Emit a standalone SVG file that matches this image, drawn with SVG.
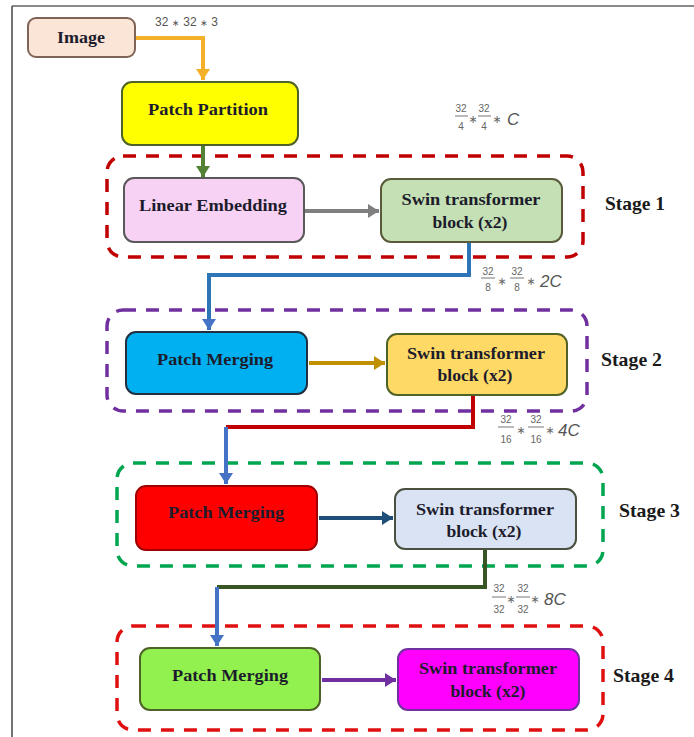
<svg xmlns="http://www.w3.org/2000/svg" width="694" height="737" viewBox="0 0 694 737">
<style>
.node{stroke-width:2}
.nt{font-family:"Liberation Serif","DejaVu Serif",serif;font-weight:bold;font-size:17px;text-anchor:middle;fill:#1c1c2c}
.st{font-family:"Liberation Serif","DejaVu Serif",serif;font-weight:bold;font-size:19px;fill:#1a1a1a}
.stage{fill:none;stroke-width:3.5;stroke-dasharray:13 10}
.conn{fill:none;stroke-width:4}
.lab{font-family:"Liberation Sans","DejaVu Sans",sans-serif;fill:#555}
.fr{font-family:"Liberation Sans","DejaVu Sans",sans-serif;font-size:10px;fill:#666;text-anchor:middle}
.frl{stroke:#777;stroke-width:1}
.big{font-family:"Liberation Sans","DejaVu Sans",sans-serif;font-size:17px;font-style:italic;fill:#555}
.ast{font-family:"Liberation Sans","DejaVu Sans",sans-serif;font-size:11px;fill:#666;text-anchor:middle}
</style>
<defs>
<marker id="aOr" markerWidth="14" markerHeight="14" refX="11" refY="7" orient="auto" markerUnits="userSpaceOnUse"><path d="M0,0 L11,7 L0,14 Z" fill="#f5b02a"/></marker>
<marker id="aGr" markerWidth="14" markerHeight="14" refX="11" refY="7" orient="auto" markerUnits="userSpaceOnUse"><path d="M0,0 L11,7 L0,14 Z" fill="#548235"/></marker>
<marker id="aGy" markerWidth="14" markerHeight="14" refX="11" refY="7" orient="auto" markerUnits="userSpaceOnUse"><path d="M0,0 L11,7 L0,14 Z" fill="#7f7f7f"/></marker>
<marker id="aBl" markerWidth="14" markerHeight="14" refX="11" refY="7" orient="auto" markerUnits="userSpaceOnUse"><path d="M0,0 L11,7 L0,14 Z" fill="#4472c4"/></marker>
<marker id="aGd" markerWidth="14" markerHeight="14" refX="11" refY="7" orient="auto" markerUnits="userSpaceOnUse"><path d="M0,0 L11,7 L0,14 Z" fill="#bf9000"/></marker>
<marker id="aNv" markerWidth="14" markerHeight="14" refX="11" refY="7" orient="auto" markerUnits="userSpaceOnUse"><path d="M0,0 L11,7 L0,14 Z" fill="#1f4e79"/></marker>
<marker id="aPu" markerWidth="14" markerHeight="14" refX="11" refY="7" orient="auto" markerUnits="userSpaceOnUse"><path d="M0,0 L11,7 L0,14 Z" fill="#7030a0"/></marker>
</defs>
<rect x="0" y="0" width="694" height="737" fill="#ffffff"/>
<line x1="12" y1="6" x2="694" y2="6" stroke="#8a8a8a" stroke-width="2"/>
<line x1="12" y1="6" x2="12" y2="737" stroke="#444" stroke-width="1.5"/>

<g id="stages">
<rect class="stage" x="107" y="156" width="476" height="101" rx="16" stroke="#c00000"/>
<rect class="stage" x="107" y="310" width="480" height="101" rx="16" stroke="#7030a0"/>
<rect class="stage" x="117" y="463" width="486" height="103" rx="16" stroke="#00a550"/>
<rect class="stage" x="117" y="626" width="486" height="104" rx="16" stroke="#e01010"/>
<text class="st" x="605" y="210" textLength="60" lengthAdjust="spacingAndGlyphs">Stage 1</text>
<text class="st" x="601" y="366" textLength="61" lengthAdjust="spacingAndGlyphs">Stage 2</text>
<text class="st" x="619" y="517" textLength="61" lengthAdjust="spacingAndGlyphs">Stage 3</text>
<text class="st" x="613" y="682" textLength="61" lengthAdjust="spacingAndGlyphs">Stage 4</text>
</g>

<g id="connectors">
<path class="conn" d="M135,38 H203 V80" stroke="#f5b02a" marker-end="url(#aOr)"/>
<path class="conn" d="M203,145 V177" stroke="#548235" marker-end="url(#aGr)"/>
<path class="conn" d="M304,211 H379" stroke="#7f7f7f" marker-end="url(#aGy)"/>
<path class="conn" d="M469,242 V275 H209 V330" stroke="#2e75b6" marker-end="url(#aBl)"/>
<path class="conn" d="M309,363 H385" stroke="#bf9000" marker-end="url(#aGd)"/>
<path class="conn" d="M473,395 V427 H226" stroke="#c00000"/>
<path class="conn" d="M226,427 V484" stroke="#4472c4" marker-end="url(#aBl)"/>
<path class="conn" d="M319,518 H393" stroke="#1f4e79" marker-end="url(#aNv)"/>
<path class="conn" d="M485,549 V587 H217" stroke="#375623"/>
<path class="conn" d="M217,587 V646" stroke="#4472c4" marker-end="url(#aBl)"/>
<path class="conn" d="M322,680 H396" stroke="#7030a0" marker-end="url(#aPu)"/>
</g>

<g id="labels">
<text class="lab" x="155" y="26" font-size="12" textLength="63" lengthAdjust="spacing">32 <tspan font-size="9">∗</tspan> 32 <tspan font-size="9">∗</tspan> 3</text>
<g>
<text class="fr" x="461" y="112">32</text><line class="frl" x1="455" y1="116" x2="468" y2="116"/><text class="fr" x="461" y="130">4</text>
<text class="ast" x="473" y="123">∗</text>
<text class="fr" x="484" y="112">32</text><line class="frl" x1="478" y1="116" x2="491" y2="116"/><text class="fr" x="484" y="130">4</text>
<text class="ast" x="497" y="123">∗</text><text class="big" x="507" y="125">C</text>
</g>
<g>
<text class="fr" x="488" y="275">32</text><line class="frl" x1="481" y1="278" x2="495" y2="278"/><text class="fr" x="488" y="291">8</text>
<text class="ast" x="502" y="285">∗</text>
<text class="fr" x="517" y="275">32</text><line class="frl" x1="510" y1="278" x2="524" y2="278"/><text class="fr" x="517" y="291">8</text>
<text class="ast" x="531" y="285">∗</text><text class="big" x="540" y="287">2C</text>
</g>
<g>
<text class="fr" x="506" y="423">32</text><line class="frl" x1="498" y1="427" x2="514" y2="427"/><text class="fr" x="506" y="443">16</text>
<text class="ast" x="521" y="434">∗</text>
<text class="fr" x="536" y="423">32</text><line class="frl" x1="528" y1="427" x2="544" y2="427"/><text class="fr" x="536" y="443">16</text>
<text class="ast" x="550" y="434">∗</text><text class="big" x="558" y="436">4C</text>
</g>
<g>
<text class="fr" x="499" y="592">32</text><line class="frl" x1="492" y1="597" x2="506" y2="597"/><text class="fr" x="499" y="613">32</text>
<text class="ast" x="511" y="603">∗</text>
<text class="fr" x="523" y="592">32</text><line class="frl" x1="516" y1="597" x2="530" y2="597"/><text class="fr" x="523" y="613">32</text>
<text class="ast" x="535" y="603">∗</text><text class="big" x="544" y="605">8C</text>
</g>
</g>

<g id="image">
<rect class="node" x="28" y="18" width="107" height="39" rx="8" fill="#fbe5d6" stroke="#7f6356"/>
<text class="nt" x="81" y="43" textLength="48" lengthAdjust="spacingAndGlyphs">Image</text>
</g>
<g id="patch-partition">
<rect class="node" x="122" y="82" width="176" height="63" rx="10" fill="#ffff00" stroke="#4f6228"/>
<text class="nt" x="208" y="115" textLength="120" lengthAdjust="spacingAndGlyphs">Patch Partition</text>
</g>
<g id="linear-embedding">
<rect class="node" x="124" y="178" width="180" height="64" rx="10" fill="#f8d2f5" stroke="#595959"/>
<text class="nt" x="213" y="211" textLength="148" lengthAdjust="spacingAndGlyphs">Linear Embedding</text>
</g>
<g id="swin1">
<rect class="node" x="381" y="179" width="181" height="63" rx="10" fill="#c5e0b4" stroke="#5a5a3a"/>
<text class="nt" x="471" y="205" textLength="139" lengthAdjust="spacingAndGlyphs">Swin transformer</text>
<text class="nt" x="470" y="228" textLength="75" lengthAdjust="spacingAndGlyphs">block (x2)</text>
</g>
<g id="patch-merging-2">
<rect class="node" x="126" y="332" width="181" height="62" rx="10" fill="#00b0f0" stroke="#203040"/>
<text class="nt" x="215" y="365" fill="#1f2a44" textLength="116" lengthAdjust="spacingAndGlyphs">Patch Merging</text>
</g>
<g id="swin2">
<rect class="node" x="387" y="334" width="180" height="61" rx="10" fill="#ffd966" stroke="#4f6228"/>
<text class="nt" x="476" y="359" textLength="138" lengthAdjust="spacingAndGlyphs">Swin transformer</text>
<text class="nt" x="475" y="381" textLength="75" lengthAdjust="spacingAndGlyphs">block (x2)</text>
</g>
<g id="patch-merging-3">
<rect class="node" x="136" y="486" width="181" height="64" rx="10" fill="#ff0000" stroke="#a00000"/>
<text class="nt" x="226" y="518" fill="#6a0000" textLength="116" lengthAdjust="spacingAndGlyphs">Patch Merging</text>
</g>
<g id="swin3">
<rect class="node" x="395" y="489" width="181" height="60" rx="10" fill="#dae3f3" stroke="#4a5040"/>
<text class="nt" x="485" y="515" textLength="138" lengthAdjust="spacingAndGlyphs">Swin transformer</text>
<text class="nt" x="484" y="537" textLength="75" lengthAdjust="spacingAndGlyphs">block (x2)</text>
</g>
<g id="patch-merging-4">
<rect class="node" x="140" y="648" width="180" height="62" rx="10" fill="#92f04f" stroke="#4f6228"/>
<text class="nt" x="230" y="681" fill="#1a2e10" textLength="116" lengthAdjust="spacingAndGlyphs">Patch Merging</text>
</g>
<g id="swin4">
<rect class="node" x="398" y="649" width="181" height="61" rx="10" fill="#ff00ff" stroke="#7030a0"/>
<text class="nt" x="488" y="674" fill="#7030a0" textLength="138" lengthAdjust="spacingAndGlyphs">Swin transformer</text>
<text class="nt" x="488" y="697" fill="#7030a0" textLength="75" lengthAdjust="spacingAndGlyphs">block (x2)</text>
</g>
</svg>
